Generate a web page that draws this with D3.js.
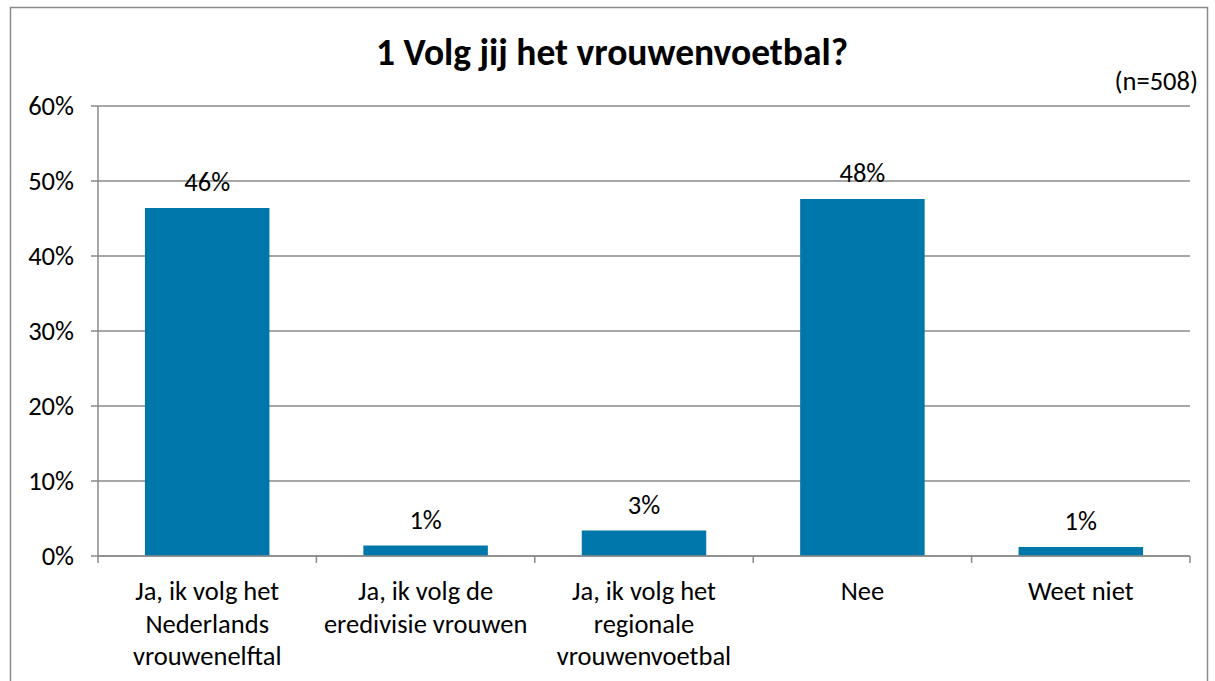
<!DOCTYPE html>
<html><head><meta charset="utf-8">
<script src="https://cdn.jsdelivr.net/npm/d3@7"></script>
<style>
html,body{margin:0;padding:0;background:#fff;}
svg{display:block;font-family:Carlito,Calibri,Lato,"Open Sans",sans-serif;}
</style></head>
<body>
<svg id="chart" width="1215" height="681"></svg>
<script>
const categories = ["Ja, ik volg het\nNederlands\nvrouwenelftal","Ja, ik volg de\neredivisie vrouwen","Ja, ik volg het\nregionale\nvrouwenvoetbal","Nee","Weet niet"];
const values = [46.4, 1.4, 3.4, 47.6, 1.2];
const yTicks = [0, 10, 20, 30, 40, 50, 60];
const title = "1 Volg jij het vrouwenvoetbal?";
const note = "(n=508)";

const svg = d3.select("#chart");
const m = {left: 98, right: 1190, top: 106, bottom: 556};
const gridColor = "#8a8a8a";
const barColor = "#0077aa";
const fs = 26.5;

svg.append("rect").attr("x", 10.5).attr("y", 7.5).attr("width", 1197).attr("height", 700)
  .attr("fill", "#fff").attr("stroke", "#8a8a8a").attr("stroke-width", 1.5);

svg.append("text").attr("x", 612).attr("y", 65).attr("text-anchor", "middle")
  .attr("font-weight", "bold").attr("font-size", 37.5).attr("fill", "#000").text(title);
svg.append("text").attr("x", 1198).attr("y", 90).attr("text-anchor", "end")
  .attr("font-size", fs).attr("fill", "#000").text(note);

const x = d3.scaleBand().domain(categories).range([m.left, m.right]).padding(0);
const y = d3.scaleLinear().domain([0, 60]).range([m.bottom, m.top]);

const yg = svg.append("g");
yg.selectAll("line.grid").data(yTicks).join("line")
  .attr("x1", m.left - 7).attr("x2", m.right)
  .attr("y1", d => y(d)).attr("y2", d => y(d))
  .attr("stroke", gridColor).attr("stroke-width", 1.5);
yg.selectAll("text").data(yTicks).join("text")
  .attr("x", 74).attr("y", d => y(d)).attr("dy", "0.35em").attr("text-anchor", "end")
  .attr("font-size", fs).attr("fill", "#000").text(d => d + "%");
svg.append("line").attr("x1", m.left).attr("x2", m.left).attr("y1", m.top).attr("y2", m.bottom)
  .attr("stroke", gridColor).attr("stroke-width", 1.5);

const bw = x.bandwidth() * 0.57;
svg.append("g").selectAll("rect").data(values).join("rect")
  .attr("x", (d, i) => x(categories[i]) + (x.bandwidth() - bw) / 2)
  .attr("width", bw)
  .attr("y", d => y(d)).attr("height", d => y(0) - y(d))
  .attr("fill", barColor);

svg.append("g").selectAll("text").data(values).join("text")
  .attr("x", (d, i) => x(categories[i]) + x.bandwidth() / 2)
  .attr("y", d => y(d) - 17).attr("text-anchor", "middle")
  .attr("font-size", fs).attr("fill", "#000").text(d => Math.round(d) + "%");

svg.append("line").attr("x1", m.left).attr("x2", m.right).attr("y1", m.bottom).attr("y2", m.bottom)
  .attr("stroke", gridColor).attr("stroke-width", 1.5);
const bounds = categories.map(c => x(c)).concat([m.right]);
svg.append("g").selectAll("line").data(bounds).join("line")
  .attr("x1", d => d).attr("x2", d => d).attr("y1", m.bottom).attr("y2", m.bottom + 7)
  .attr("stroke", gridColor).attr("stroke-width", 1.5);

const cl = svg.append("g").selectAll("text").data(categories).join("text")
  .attr("text-anchor", "middle").attr("font-size", fs).attr("fill", "#000")
  .attr("transform", d => `translate(${x(d) + x.bandwidth() / 2},600)`);
cl.selectAll("tspan").data(d => d.split("\n")).join("tspan")
  .attr("x", 0).attr("y", (d, i) => i * 32.5).text(d => d);
</script>
</body></html>
